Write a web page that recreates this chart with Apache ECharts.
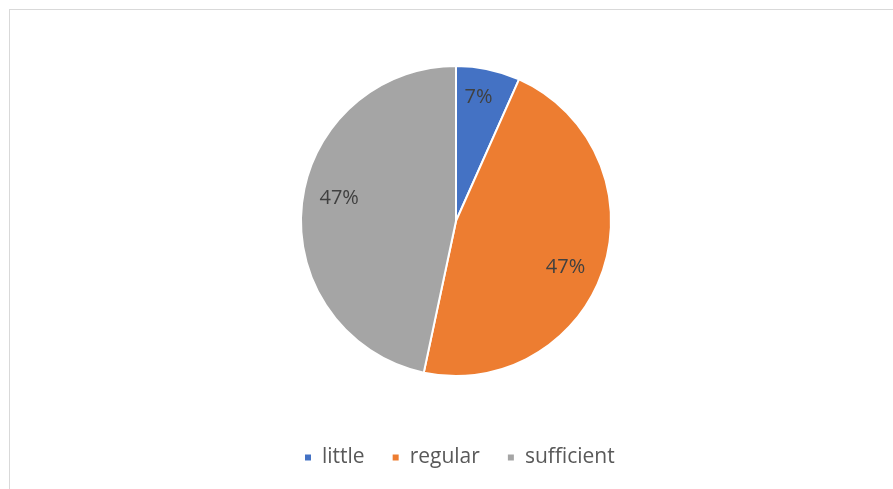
<!DOCTYPE html>
<html><head><meta charset="utf-8">
<script src="https://cdn.jsdelivr.net/npm/echarts@6/dist/echarts.min.js"></script>
<style>
html,body{margin:0;padding:0;background:#fff;overflow:hidden;width:893px;height:489px;}
#frame{position:absolute;left:9px;top:9px;width:900px;height:500px;border:1px solid #d9d9d9;}
#chart{position:absolute;left:0;top:0;width:893px;height:489px;}
</style></head>
<body>
<div id="frame"></div>
<div id="chart"></div>
<script>
const categories = ['little', 'regular', 'sufficient'];
const values = [1, 7, 7];
const colors = ['#4472C4', '#ED7D31', '#A5A5A5'];
// small label nudges to mimic the reference label placement
const labelNudgeX = [-3, -7, 5];
const labelNudgeY = [-4, 8, -10];

const data = categories.map((c, i) => ({ name: c, value: values[i], itemStyle: { color: colors[i] } }));
const total = values.reduce((a, b) => a + b, 0);

const chart = echarts.init(document.getElementById('chart'), null, { renderer: 'canvas' });
chart.setOption({
  animation: false,
  legend: {
    bottom: 16,
    left: 298,
    itemWidth: 8,
    itemHeight: 8,
    itemGap: 26,
    icon: 'rect',
    textStyle: { fontFamily: 'Open Sans', fontSize: 21, color: '#595959', padding: [0, 0, 0, 5] },
    data: categories
  },
  series: [
    {
      type: 'pie',
      center: [456, 221],
      radius: [0, 155],
      startAngle: 90,
      clockwise: true,
      data: data,
      itemStyle: { borderColor: '#fff', borderWidth: 2 },
      label: { show: false },
      labelLine: { show: false }
    },
    {
      type: 'pie',
      center: [456, 221],
      radius: [84, 155],
      startAngle: 90,
      clockwise: true,
      silent: true,
      legendHoverLink: false,
      data: data.map(d => ({ name: d.name, value: d.value, itemStyle: { color: 'rgba(0,0,0,0)' } })),
      itemStyle: { borderWidth: 0 },
      label: {
        show: true,
        position: 'inside',
        fontFamily: 'Open Sans',
        fontSize: 20,
        color: '#404040',
        formatter: p => Math.round(p.value / total * 100) + '%'
      },
      labelLayout: p => ({ dx: labelNudgeX[p.dataIndex], dy: labelNudgeY[p.dataIndex] }),
      labelLine: { show: false }
    }
  ]
});
</script>
</body></html>
